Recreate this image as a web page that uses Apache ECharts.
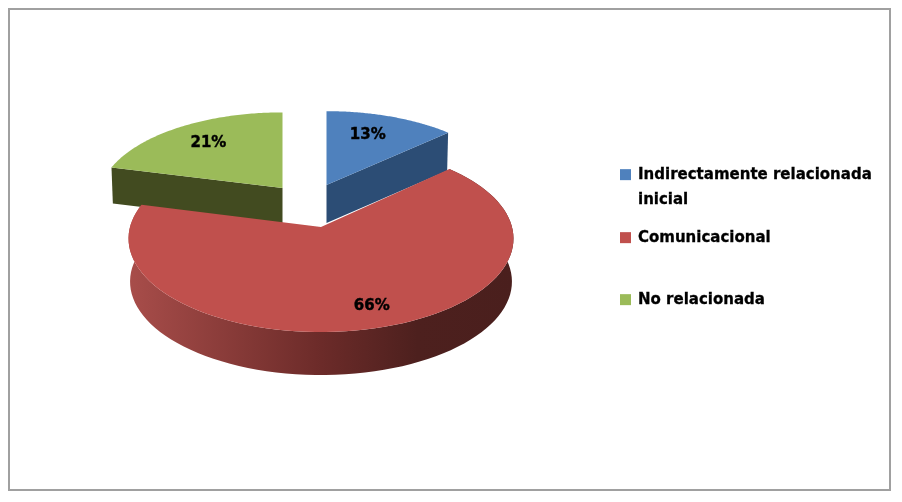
<!DOCTYPE html>
<html><head><meta charset="utf-8">
<script src="https://cdn.jsdelivr.net/npm/echarts@6/dist/echarts.min.js"></script>
<style>html,body{margin:0;padding:0;background:#fff}#c{width:902px;height:502px}</style>
</head><body><div id="c"></div>
<script>
const categories = ['Indirectamente relacionada inicial', 'Comunicacional', 'No relacionada'];
const shares = [13, 66, 21];
const topColors = ['#4f81bd', '#c0504d', '#9bbb59'];
const sideColors = ['#2c4d75', null, '#424b20'];
// projection of each exploded slice: apex, horizontal/vertical radius, extrusion depth
const apexX = [326.5, 321, 282.5];
const apexY = [185, 227, 188];
const radX = [181, 191, 182];
const radY = [83, 92, 85];
const depth = [38, 43, 36];
const labelR = [0.70, 0.81, 0.71];
const labelF = [0.44, 0.488, 0.5];
const persp = 0.124;
const drawOrder = [0, 2, 1];

const total = shares.reduce((a, b) => a + b, 0);
function project(i, ang, r, dz) {
  const x = Math.sin(ang) * r, y = Math.cos(ang) * r;
  const w = 1 + persp * y;
  const s = dz ? 0.992 : 1;
  return [apexX[i] + s * radX[i] * x / w, apexY[i] - radY[i] * y / w + (dz ? depth[i] : 0)];
}
function makeRender(i) {
  return function (params, api) {
    const share = api.value(0);
    let before = 0;
    for (let k = 0; k < i; k++) before += shares[k];
    const a0 = before / total * 2 * Math.PI;
    const a1 = a0 + share / total * 2 * Math.PI;
    const steps = 90;
    const arc = [], arcLow = [];
    for (let s = 0; s <= steps; s++) {
      const a = a0 + (a1 - a0) * s / steps;
      arc.push(project(i, a, 1, false));
      arcLow.push(project(i, a, 1, true));
    }
    const apex = [apexX[i], apexY[i]], apexLow = [apexX[i], apexY[i] + depth[i]];
    const children = [];
    if (i === 1) {
      children.push({
        type: 'polygon',
        shape: { points: arc.concat(arcLow.slice().reverse()) },
        style: {
          fill: new echarts.graphic.LinearGradient(0, 0, 1, 0, [
            { offset: 0, color: '#a84d4a' },
            { offset: 0.5, color: '#6c2b29' },
            { offset: 0.75, color: '#4d201e' },
            { offset: 1, color: '#4a1f1d' }
          ])
        }
      });
    } else {
      const edge = i === 0 ? arc[steps] : arc[0];
      const edgeLow = i === 0 ? arcLow[steps] : arcLow[0];
      children.push({
        type: 'polygon',
        shape: { points: [edge, apex, apexLow, edgeLow] },
        style: { fill: sideColors[i] }
      });
    }
    children.push({
      type: 'polygon',
      shape: { points: [apex].concat(arc) },
      style: { fill: topColors[i] }
    });
    const mid = a0 + (a1 - a0) * labelF[i];
    const lp = project(i, mid, labelR[i], false);
    children.push({
      type: 'text',
      z2: 10,
      style: {
        x: lp[0], y: lp[1],
        text: Math.round(share / total * 100) + '%',
        fill: '#000',
        stroke: '#000',
        lineWidth: 0.4,
        font: 'bold 15px "DejaVu Sans"',
        align: 'center', verticalAlign: 'middle'
      }
    });
    return { type: 'group', children: children };
  };
}
const legendFont = {
  color: '#000', fontFamily: 'DejaVu Sans', fontWeight: 'bold', fontSize: 15,
  padding: [3, 0, 0, 2], textBorderColor: '#000', textBorderWidth: 0.3
};
function legendFor(name, top, fmt) {
  return {
    data: [name], left: 620, top: top, orient: 'vertical', itemWidth: 11, itemHeight: 11,
    itemGap: 0, padding: 0, icon: 'rect', selectedMode: false, textStyle: legendFont,
    formatter: fmt || '{name}'
  };
}
const chart = echarts.init(document.getElementById('c'), null, { renderer: 'canvas' });
chart.setOption({
  animation: false,
  backgroundColor: '#ffffff',
  legend: [
    legendFor(categories[0], 167, n => n.replace(/ inicial$/, '')),
    legendFor(categories[1], 230),
    legendFor(categories[2], 292)
  ],
  graphic: [
    { type: 'rect', shape: { x: 9, y: 9, width: 881, height: 481 }, style: { fill: 'none', stroke: '#a0a0a0', lineWidth: 2 }, silent: true },
    { type: 'text', x: 638, y: 193, style: { text: 'inicial', fill: '#000', stroke: '#000', lineWidth: 0.3, font: 'bold 15px "DejaVu Sans"' }, silent: true }
  ],
  series: drawOrder.map(i => ({
    type: 'custom',
    name: categories[i],
    coordinateSystem: 'none',
    itemStyle: { color: topColors[i] },
    renderItem: makeRender(i),
    data: [[shares[i]]],
    z: 2
  }))
});
</script></body></html>
